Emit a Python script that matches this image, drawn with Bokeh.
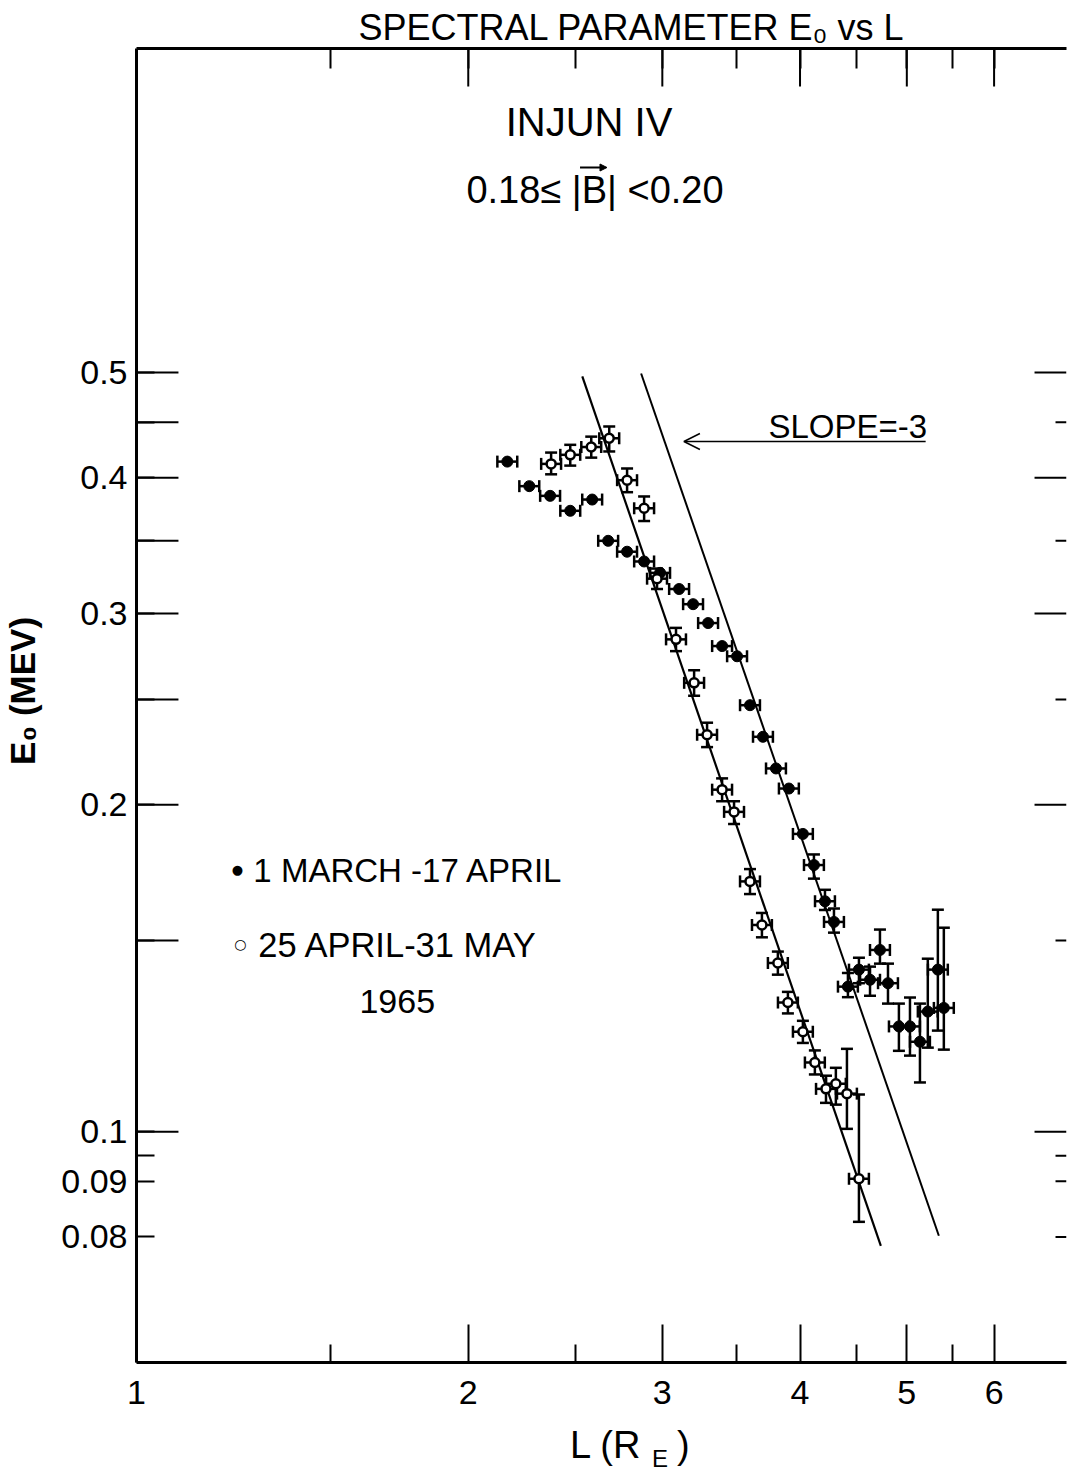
import math
from bokeh.plotting import figure
from bokeh.layouts import column
from bokeh.models import (ColumnDataSource, Whisker, TeeHead, FixedTicker, LogAxis,
                          Label, Arrow, OpenHead, NormalHead, Range1d)
from bokeh.core.properties import value
from bokeh.embed import file_html
from bokeh.resources import INLINE

FONT = "Liberation Sans"

# ---------------- axis definitions ----------------
L_RANGE = (1.0, 6.98)
E_RANGE = (0.0613, 0.994)
L_MAJOR = [1, 2, 3, 4, 5, 6]
L_MINOR = [1.5, 2.5, 3.5, 4.5, 5.5]
L_TICK_LABELS = ["1", "2", "3", "4", "5", "6"]
L_TOP_LONG = [2, 3, 4, 5, 6]
L_TOP_ALL = [1.5, 2, 2.5, 3, 3.5, 4, 4.5, 5, 5.5, 6]
E_LABELED = [0.5, 0.4, 0.3, 0.2, 0.1, 0.09, 0.08]
E_TICK_LABELS = ["0.5", "0.4", "0.3", "0.2", "0.1", "0.09", "0.08"]
E_UNLABELED = [0.45, 0.35, 0.25, 0.15, 0.095]
E_LONG_TICKS = [0.5, 0.45, 0.4, 0.35, 0.3, 0.25, 0.2, 0.15, 0.1]
E_RIGHT_LONG = [0.5, 0.4, 0.3, 0.2, 0.1]
E_RIGHT_SHORT = [0.45, 0.35, 0.25, 0.15, 0.095, 0.09, 0.08]

# ---------------- data ----------------
# 1 March - 17 April (filled)
filled_L = [2.170, 2.272, 2.373, 2.475, 2.591, 2.679, 2.787, 2.888, 2.986, 3.107,
            3.199, 3.301, 3.399, 3.507, 3.603, 3.702, 3.804, 3.908, 4.024, 4.118,
            4.214, 4.294, 4.421, 4.524, 4.630, 4.727, 4.807, 4.918, 5.033, 5.139,
            5.224, 5.335, 5.402]
filled_E = [0.414, 0.393, 0.385, 0.373, 0.382, 0.350, 0.342, 0.335, 0.327, 0.316,
            0.306, 0.294, 0.280, 0.274, 0.247, 0.231, 0.216, 0.207, 0.188, 0.176,
            0.163, 0.156, 0.136, 0.141, 0.138, 0.147, 0.137, 0.125, 0.125, 0.121,
            0.129, 0.141, 0.130]
filled_E_lo = [0.414, 0.393, 0.385, 0.373, 0.382, 0.350, 0.342, 0.335, 0.327, 0.316,
               0.306, 0.294, 0.280, 0.274, 0.247, 0.231, 0.216, 0.207, 0.188, 0.171,
               0.160, 0.1525, 0.133, 0.137, 0.1334, 0.1428, 0.1312, 0.1187, 0.1175, 0.1110,
               0.1195, 0.1239, 0.1190]
filled_E_hi = [0.414, 0.393, 0.385, 0.373, 0.382, 0.350, 0.342, 0.335, 0.327, 0.316,
               0.306, 0.294, 0.280, 0.274, 0.247, 0.231, 0.216, 0.207, 0.188, 0.180,
               0.167, 0.1605, 0.140, 0.1446, 0.1419, 0.1535, 0.1428, 0.1312, 0.1329, 0.1312,
               0.1443, 0.1601, 0.1541]

# 25 April - 31 May (open)
open_L = [2.378, 2.475, 2.586, 2.685, 2.787, 2.888, 2.967, 3.087, 3.206, 3.294,
          3.399, 3.485, 3.603, 3.694, 3.819, 3.900, 4.024, 4.126, 4.223, 4.311,
          4.412, 4.524]
open_E = [0.412, 0.420, 0.427, 0.435, 0.398, 0.375, 0.323, 0.284, 0.259, 0.232,
          0.2065, 0.197, 0.170, 0.155, 0.143, 0.1315, 0.1236, 0.1158, 0.1095, 0.1107,
          0.1084, 0.0905]
open_E_lo = [0.403, 0.4105, 0.4175, 0.423, 0.388, 0.365, 0.316, 0.277, 0.252, 0.226,
             0.2015, 0.192, 0.1655, 0.151, 0.1395, 0.1285, 0.1207, 0.1129, 0.1063, 0.1059,
             0.1006, 0.0826]
open_E_hi = [0.422, 0.429, 0.4365, 0.446, 0.408, 0.3845, 0.330, 0.291, 0.266, 0.238,
             0.2115, 0.2015, 0.1745, 0.159, 0.1465, 0.1345, 0.1265, 0.1188, 0.1126, 0.1145,
             0.1192, 0.1082]

# half-width of the L bins, as a fraction of L
L_BIN_FRAC = 0.021

# slope = -3 reference lines
lineA_L = [2.538, 4.736]
lineA_E = [0.496, 0.0785]
lineB_L = [2.870, 5.346]
lineB_E = [0.499, 0.0802]

# ---------------- figure ----------------
W = 1067
FL, FR, FT, FB = 135, 1066, 48, 1362
BOTTOM_PANEL = 60
H_MAIN = FB + BOTTOM_PANEL
H_TOTAL = 1475
H_XLAB = H_TOTAL - H_MAIN

p = figure(width=W, height=H_MAIN, x_axis_type="log", y_axis_type="log",
           x_range=L_RANGE, y_range=E_RANGE, output_backend="svg",
           toolbar_location=None, min_border_left=FL, min_border_top=FT,
           min_border_right=W - FR, min_border_bottom=BOTTOM_PANEL)
p.outline_line_color = None
p.xgrid.visible = False
p.ygrid.visible = False
p.background_fill_color = "white"
p.border_fill_color = "white"

# title
p.title.text = "SPECTRAL  PARAMETER  E\u2080 vs L"
p.title.align = "left"
p.title.offset = 222
p.title.text_font = FONT
p.title.text_font_size = "36px"
p.title.text_font_style = "normal"
p.title.text_color = "black"
p.title.standoff = 1

# page pixel -> data helpers (for annotation placement only)
def dx(px):
    return 10 ** (math.log10(L_RANGE[0]) + (px - FL) / (FR - FL) *
                  (math.log10(L_RANGE[1]) - math.log10(L_RANGE[0])))
def dy(py):
    return 10 ** (math.log10(E_RANGE[0]) + (FB - py) / (FB - FT) *
                  (math.log10(E_RANGE[1]) - math.log10(E_RANGE[0])))

# bottom axis
xa = p.xaxis[0]
xa.ticker = FixedTicker(ticks=L_MAJOR, minor_ticks=L_MINOR)
xa.major_label_overrides = {t: s for t, s in zip(L_MAJOR, L_TICK_LABELS)}
xa.major_tick_in = 38
xa.major_tick_out = 0
xa.minor_tick_in = 18
xa.minor_tick_out = 0
xa.axis_line_width = 3
xa.major_tick_line_width = 2
xa.minor_tick_line_width = 2
xa.major_label_text_font = FONT
xa.major_label_text_font_size = "34px"
xa.major_label_text_color = "black"
xa.major_label_standoff = 18

# left axis
ya = p.yaxis[0]
ya.ticker = FixedTicker(ticks=E_LABELED, minor_ticks=E_UNLABELED)
ya.major_label_overrides = {t: s for t, s in zip(E_LABELED, E_TICK_LABELS)}
ya.major_tick_in = 18
ya.major_tick_out = 0
ya.minor_tick_in = 18
ya.minor_tick_out = 0
ya.axis_line_width = 3
ya.major_tick_line_width = 2
ya.minor_tick_line_width = 2
ya.major_label_text_font = FONT
ya.major_label_text_font_size = "34px"
ya.major_label_text_color = "black"
ya.major_label_standoff = 9
ya.axis_label = "\u00a0\u00a0\u00a0E\u2080 (MEV)"
ya.axis_label_text_font = FONT
ya.axis_label_text_font_size = "35px"
ya.axis_label_text_font_style = "bold"
ya.axis_label_text_color = "black"
ya.axis_label_standoff = 16

# top axis: line and short ticks only (no labels)
top = LogAxis(ticker=FixedTicker(ticks=[], minor_ticks=L_TOP_ALL),
              major_tick_in=0, major_tick_out=0, minor_tick_in=20, minor_tick_out=0,
              axis_line_width=3, minor_tick_line_width=2)
p.add_layout(top, "above")

# longer ticks drawn inside the frame
n = len(E_LONG_TICKS)
p.segment(x0=[L_RANGE[0]] * n, y0=E_LONG_TICKS, x1=[dx(FL + 42)] * n,
          y1=E_LONG_TICKS, line_color="black", line_width=2)
n = len(L_TOP_LONG)
p.segment(x0=L_TOP_LONG, y0=[E_RANGE[1]] * n, x1=L_TOP_LONG, y1=[dy(FT + 38)] * n,
          line_color="black", line_width=2)
n = len(E_RIGHT_LONG)
p.segment(x0=[dx(FR - 32)] * n, y0=E_RIGHT_LONG, x1=[L_RANGE[1]] * n, y1=E_RIGHT_LONG,
          line_color="black", line_width=2)
n = len(E_RIGHT_SHORT)
p.segment(x0=[dx(FR - 11)] * n, y0=E_RIGHT_SHORT, x1=[L_RANGE[1]] * n, y1=E_RIGHT_SHORT,
          line_color="black", line_width=2)

# ---------------- data sources ----------------
fsrc = ColumnDataSource(dict(
    L=filled_L, E=filled_E,
    Llo=[v / (1 + L_BIN_FRAC) for v in filled_L],
    Lhi=[v * (1 + L_BIN_FRAC) for v in filled_L]))
fv = [i for i in range(len(filled_L)) if filled_E_hi[i] > filled_E_lo[i]]
fvsrc = ColumnDataSource(dict(L=[filled_L[i] for i in fv],
                              lo=[filled_E_lo[i] for i in fv],
                              hi=[filled_E_hi[i] for i in fv]))
osrc = ColumnDataSource(dict(
    L=open_L, E=open_E, lo=open_E_lo, hi=open_E_hi,
    Llo=[v / (1 + L_BIN_FRAC) for v in open_L],
    Lhi=[v * (1 + L_BIN_FRAC) for v in open_L]))

def head():
    return TeeHead(size=12, line_width=2.5, line_color="black")

for src in (fsrc, osrc):
    p.add_layout(Whisker(source=src, base="E", lower="Llo", upper="Lhi", dimension="width",
                         line_width=2.5, line_color="black", lower_head=head(),
                         upper_head=head(), level="underlay"))
for src in (fvsrc, osrc):
    p.add_layout(Whisker(source=src, base="L", lower="lo", upper="hi", dimension="height",
                         line_width=2.5, line_color="black", lower_head=head(),
                         upper_head=head(), level="underlay"))

# slope lines
p.line(lineA_L, lineA_E, line_color="black", line_width=2.2)
p.line(lineB_L, lineB_E, line_color="black", line_width=2)

# markers
p.scatter("L", "E", source=fsrc, size=11, marker="circle", fill_color="black",
          line_color="black")
p.scatter("L", "E", source=osrc, size=9, marker="circle", fill_color="white",
          line_color="black", line_width=2.5)

# ---------------- annotations inside the frame ----------------
def lab(px, py, text, size, align="center", baseline="middle", font=FONT):
    p.add_layout(Label(x=dx(px), y=dy(py), text=text, text_align=align,
                       text_baseline=baseline, text_font=font,
                       text_font_size=size, text_color="black"))

lab(588, 121, "INJUN IV", "40px")
lab(594, 189, "0.18\u2264 |B| <0.20", "38px")
p.add_layout(Arrow(end=NormalHead(size=7, fill_color="black", line_color="black"),
                   x_start=dx(579), y_start=dy(167), x_end=dx(606), y_end=dy(167),
                   line_width=2, line_color="black"))
lab(847, 426, "SLOPE=-3", "33px")
lab(236, 869, "\u25cf", "13px", font="DejaVu Sans")
lab(252, 870, "1 MARCH -17 APRIL", "33px", align="left")
lab(239, 943, "\u25cb", "14px", font="DejaVu Sans")
lab(257, 944, "25 APRIL-31 MAY", "34.5px", align="left")
lab(396, 1001, "1965", "34px")

# slope arrow
ya_arrow = dy(441)
p.add_layout(Arrow(end=OpenHead(size=16, line_width=1.5, line_color="black"),
                   x_start=dx(925), y_start=ya_arrow, x_end=dx(683), y_end=ya_arrow,
                   line_width=1.5, line_color="black"))

# ---------------- x-axis title strip (coordinates ~ page pixels) ----------------
q = figure(width=W, height=H_XLAB, x_range=Range1d(FL, FR),
           y_range=Range1d(H_TOTAL, H_MAIN), output_backend="svg",
           toolbar_location=None, min_border_left=FL, min_border_right=W - FR,
           min_border_top=0, min_border_bottom=0,
           x_axis_location=None, y_axis_location=None)
q.title.visible = False
q.outline_line_color = None
q.xgrid.visible = False
q.ygrid.visible = False
q.text(x=[569], y=[1444], text=["L (R"], text_font=value(FONT),
       text_font_size="38px", text_align="left", text_baseline="alphabetic",
       text_color="black")
q.text(x=[651], y=[1458], text=["E"], text_font=value(FONT),
       text_font_size="24px", text_align="left", text_baseline="alphabetic",
       text_color="black")
q.text(x=[676], y=[1444], text=[")"], text_font=value(FONT),
       text_font_size="38px", text_align="left", text_baseline="alphabetic",
       text_color="black")

layout = column(p, q, spacing=0)
open("out.html", "w").write(file_html(layout, INLINE))
